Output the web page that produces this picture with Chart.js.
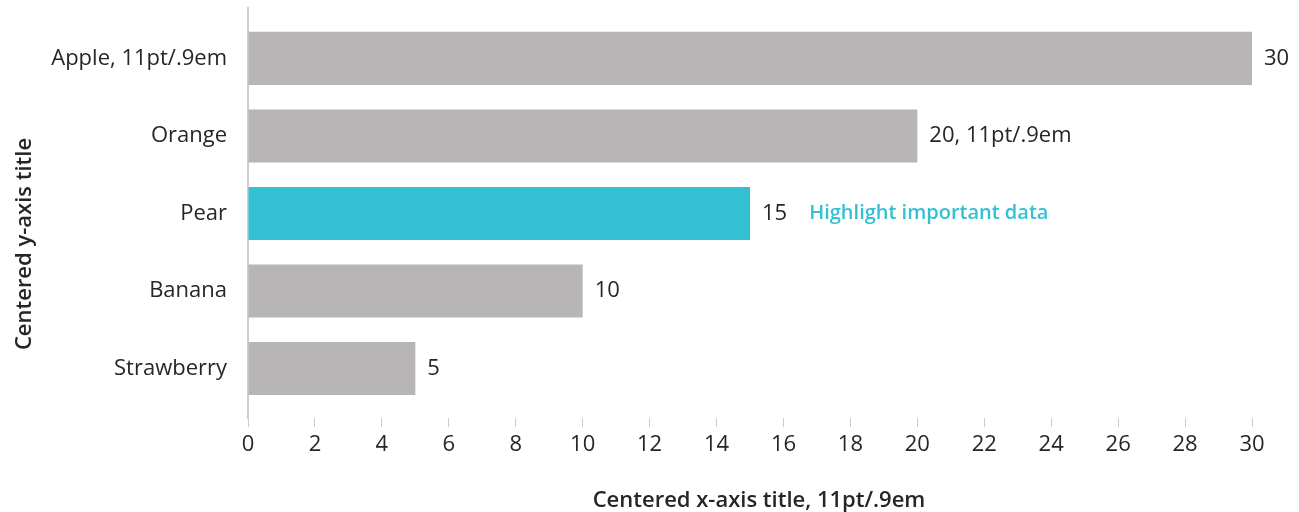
<!DOCTYPE html>
<html>
<head>
<meta charset="utf-8">
<script src="https://cdn.jsdelivr.net/npm/chart.js@4/dist/chart.umd.min.js"></script>
<style>
  html, body { margin: 0; padding: 0; background: #fff; }
  #wrap { width: 1299px; height: 512px; }
</style>
</head>
<body>
<div id="wrap"><canvas id="fruit-chart"></canvas></div>
<script>
// Fruit values, top to bottom
const categories = ['Apple, 11pt/.9em', 'Orange', 'Pear', 'Banana', 'Strawberry'];
const values = [30, 20, 15, 10, 5];
const valueSuffixes = ['', ', 11pt/.9em', '', '', ''];
const highlightIndex = 2;
const highlightNote = 'Highlight important data';
const xTicks = [0, 2, 4, 6, 8, 10, 12, 14, 16, 18, 20, 22, 24, 26, 28, 30];
const xTitle = 'Centered x-axis title, 11pt/.9em';
const yTitle = 'Centered y-axis title';

const COLORS = {
  bar: '#b7b5b6',
  highlight: '#33c0d3',
  text: '#262626',
  axis: '#cccccc'
};
const FONT = '"Open Sans", "Noto Sans", sans-serif';
const FONT_SIZE = 22;

const ctx = document.getElementById('fruit-chart').getContext('2d');

new Chart(ctx, {
  type: 'bar',
  data: {
    datasets: [{
      data: values.map((v, i) => ({ x: v, y: i })),
      backgroundColor: values.map((v, i) => i === highlightIndex ? COLORS.highlight : COLORS.bar),
      borderWidth: 0,
      categoryPercentage: 1,
      barPercentage: 0.684
    }]
  },
  options: {
    indexAxis: 'y',
    responsive: true,
    maintainAspectRatio: false,
    animation: false,
    layout: { padding: { left: 0, top: 8, right: 47, bottom: 0 } },
    plugins: {
      legend: { display: false },
      tooltip: { enabled: false }
    },
    scales: {
      x: {
        type: 'linear',
        min: 0,
        max: 30,
        afterBuildTicks: (scale) => { scale.ticks = xTicks.map(v => ({ value: v })); },
        afterFit: (scale) => {
          scale.height = 94;
          scale.paddingLeft = 0;
          scale.paddingRight = 0;
        },
        border: { display: false },
        grid: {
          drawOnChartArea: false,
          color: COLORS.axis,
          tickLength: 9,
          lineWidth: 1
        },
        ticks: {
          color: COLORS.text,
          padding: 5,
          font: { family: FONT, size: FONT_SIZE }
        }
      },
      y: {
        type: 'linear',
        reverse: true,
        offset: false,
        min: -0.65,
        max: 4.64,
        afterBuildTicks: (scale) => { scale.ticks = categories.map((c, i) => ({ value: i })); },
        afterFit: (scale) => {
          scale.width = 248;
          scale.paddingTop = 0;
          scale.paddingBottom = 0;
        },
        border: { display: true, color: COLORS.axis, width: 2 },
        grid: { display: false, drawTicks: false, offset: false },
        ticks: {
          color: COLORS.text,
          padding: 21,
          font: { family: FONT, size: FONT_SIZE },
          callback: (value) => categories[value] ?? ''
        }
      }
    }
  },
  plugins: [{
    // Value labels at the end of each bar, plus the note beside the highlighted one
    id: 'barValueLabels',
    afterDatasetsDraw: (chart) => {
      const c = chart.ctx;
      const meta = chart.getDatasetMeta(0);
      c.save();
      c.textAlign = 'left';
      c.textBaseline = 'middle';
      meta.data.forEach((bar, i) => {
        const text = values[i] + valueSuffixes[i];
        c.font = FONT_SIZE + 'px ' + FONT;
        c.fillStyle = COLORS.text;
        c.fillText(text, bar.x + 12, bar.y);
        if (i === highlightIndex) {
          const w = c.measureText(text).width;
          c.font = '600 20px ' + FONT;
          c.fillStyle = COLORS.highlight;
          c.fillText(highlightNote, bar.x + 12 + w + 22, bar.y);
        }
      });
      c.restore();
    }
  }, {
    // Axis titles, bold
    id: 'axisTitles',
    afterDraw: (chart) => {
      const c = chart.ctx;
      const area = chart.chartArea;
      c.save();
      c.font = '600 ' + FONT_SIZE + 'px ' + FONT;
      c.fillStyle = COLORS.text;
      c.textAlign = 'center';
      c.textBaseline = 'alphabetic';
      c.fillText(xTitle, (area.left + area.right) / 2 + 9, chart.height - 5);
      c.translate(31, (area.top + area.bottom) / 2 + 31);
      c.rotate(-Math.PI / 2);
      c.fillText(yTitle, 0, 0);
      c.restore();
    }
  }]
});
</script>
</body>
</html>
